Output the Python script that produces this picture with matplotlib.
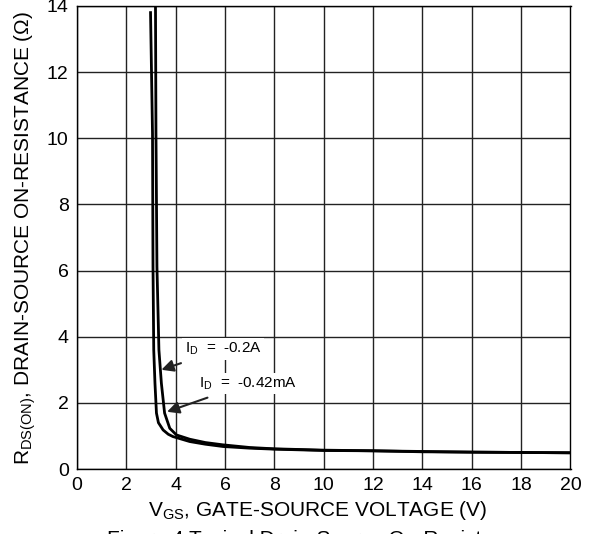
import matplotlib
matplotlib.use("Agg")
import matplotlib.pyplot as plt

plt.rcParams['font.family'] = ['Liberation Sans', 'DejaVu Sans']
plt.rcParams['mathtext.fontset'] = 'custom'
plt.rcParams['mathtext.rm'] = 'Liberation Sans'

# Curve 1 (I_D = -0.2A, left curve)
vgs_a = [2.98, 3.06, 3.08, 3.11, 3.16, 3.22, 3.30, 3.49, 3.70, 3.89, 4.57, 5.20, 5.92, 7.0, 8.0, 10.0, 12.0, 14.0, 16.0, 18.0, 20.0]
rds_a = [13.8, 10.15, 6.12, 3.6, 2.59, 1.69, 1.40, 1.18, 1.05, 0.98, 0.83, 0.75, 0.68, 0.63, 0.60, 0.56, 0.55, 0.52, 0.51, 0.50, 0.49]

# Curve 2 (I_D = -0.42mA, right curve)
vgs_b = [3.18, 3.20, 3.24, 3.32, 3.42, 3.55, 3.76, 4.03, 4.57, 5.20, 5.92, 7.0, 8.0, 10.0, 12.0, 14.0, 16.0, 18.0, 20.0]
rds_b = [14.2, 10.15, 6.12, 3.6, 2.59, 1.69, 1.23, 1.03, 0.90, 0.80, 0.73, 0.65, 0.61, 0.57, 0.55, 0.53, 0.51, 0.50, 0.49]

x_ticks = [0, 2, 4, 6, 8, 10, 12, 14, 16, 18, 20]
y_ticks = [0, 2, 4, 6, 8, 10, 12, 14]

fig = plt.figure(figsize=(5.93, 5.34), dpi=100)
ax = fig.add_axes([77/593, 65/534, (570.5-77)/593, (469-6)/534])

ax.plot(vgs_a, rds_a, color='black', lw=2.0, solid_joinstyle='round')
ax.plot(vgs_b, rds_b, color='black', lw=2.0, solid_joinstyle='round')

ax.set_xlim(0, 20)
ax.set_ylim(0, 14)
ax.set_xticks(x_ticks)
ax.set_yticks(y_ticks)
ax.grid(True, color='#222222', lw=1.0)
ax.set_axisbelow(True)
for s in ax.spines.values():
    s.set_color('black')
    s.set_linewidth(1.0)
ax.tick_params(length=0, labelsize=14, pad=6)

ax.set_xlabel(r'V$_{\mathrm{GS}}$, GATE-SOURCE VOLTAGE (V)', fontsize=15, labelpad=3)
ax.xaxis.label.set_x(0.488)
ax.set_ylabel(r'R$_{\mathrm{DS(ON)}}$, DRAIN-SOURCE ON-RESISTANCE (Ω)', fontsize=15, labelpad=6)

bbox = dict(boxstyle='square,pad=0.15', fc='white', ec='none')
ax.annotate(r'I$_{\mathrm{D}}$  =  -0.2A', xy=(3.42, 3.0), xytext=(4.36, 3.63),
            fontsize=11, va='center', ha='left', bbox=bbox,
            arrowprops=dict(arrowstyle='-|>', color='#222222', lw=1.5,
                            mutation_scale=18, shrinkA=8, shrinkB=0))
ax.annotate(r'I$_{\mathrm{D}}$  =  -0.42mA', xy=(3.65, 1.73), xytext=(4.96, 2.59),
            fontsize=11, va='center', ha='left', bbox=bbox,
            arrowprops=dict(arrowstyle='-|>', color='#222222', lw=1.5,
                            mutation_scale=18, shrinkA=8, shrinkB=0))

fig.text(0.535, -11/534, 'Figure 4 Typical Drain-Source On-Resistance',
         fontsize=15, ha='center', va='baseline')

fig.savefig('out.png', dpi=100)
